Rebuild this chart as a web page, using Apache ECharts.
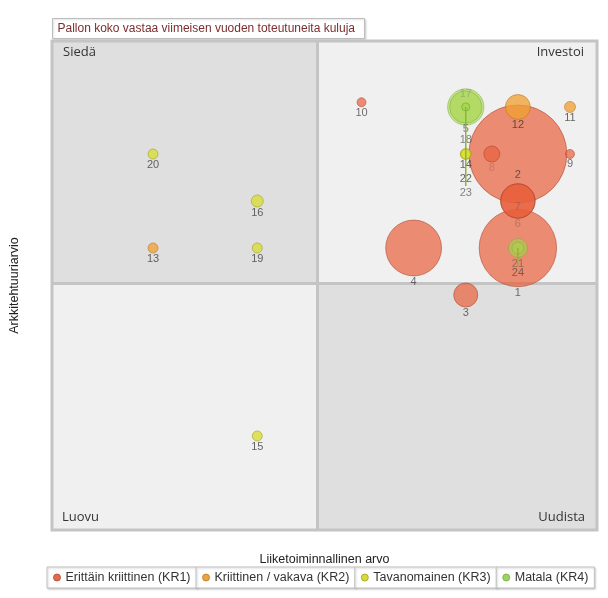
<!DOCTYPE html>
<html><head><meta charset="utf-8">
<script src="https://cdn.jsdelivr.net/npm/echarts@6/dist/echarts.min.js"></script>
<style>html,body{margin:0;padding:0;background:#fff}#c{width:608px;height:598px}</style>
</head><body><div id="c"></div>
<script>
// ---- data ----
const riskClasses = ['Erittäin kriittinen (KR1)', 'Kriittinen / vakava (KR2)', 'Tavanomainen (KR3)', 'Matala (KR4)'];
const pointIds = ['1','2','3','4','5','6','7','8','9','10','11','12','13','14','15','16','17','18','19','20','21','22','23','24'];
const businessValue = [4.5, 4.5, 4.0, 3.5, 4.0, 4.5, 4.5, 4.25, 5.0, 3.0, 5.0, 4.5, 1.0, 4.0, 2.0, 2.0, 4.0, 4.0, 2.0, 1.0, 4.5, 4.0, 4.0, 4.5];
const architectureScore = [3.5, 4.5, 3.0, 3.5, 5.0, 4.0, 4.0, 4.5, 4.5, 5.05, 5.0, 5.0, 3.5, 4.5, 1.5, 4.0, 5.0, 5.0, 3.5, 4.5, 3.5, 4.5, 5.0, 3.5];
const annualCost = [1500, 2400, 145, 780, 260, 290, 300, 64, 20, 20, 30, 155, 25, 30, 25, 36, 330, 16, 25, 25, 90, 25, 16, 36];
const riskClassIndex = [0, 0, 0, 0, 3, 0, 0, 0, 0, 0, 1, 1, 1, 2, 2, 2, 3, 3, 2, 2, 3, 2, 3, 3];
const quadrantNames = ['Siedä', 'Investoi', 'Luovu', 'Uudista'];

// ---- styling ----
const riskColors = ['#e8603c', '#f0a030', '#d8dc2c', '#a6d64a'];
const legendColors = ['#e46a4e', '#eba442', '#d6da3a', '#9cd462'];
const riskOpacity = [0.7, 0.75, 0.75, 0.6];
const riskBorders = ['rgba(170,70,45,0.8)', 'rgba(190,120,30,0.8)', 'rgba(160,160,30,0.8)', 'rgba(120,170,60,0.8)'];
const labelShift = {'2': -34, '7': -17, '17': -37, '18': 23, '22': 14, '23': 76, '24': 13};
const connectorIds = ['23', '24'];
const fadedLabels = {'6': '#a86a58', '7': '#a05848', '8': '#c07060', '17': '#8a9a70', '21': '#6a5040'};
const X_MIN = 0.031, X_MAX = 5.259, Y_MIN = 0.5, Y_MAX = 5.702;
const X_MID = 2.585, Y_MID = 3.117;
const FONT = 'Liberation Sans, Arial, sans-serif';
const QFONT = 'Open Sans, Noto Sans, sans-serif';
const LEGEND_FONT_SIZE = 12.5;

const sizeOf = cost => 2 * Math.sqrt(cost);

function buildItems(k) {
  const items = [];
  pointIds.forEach((id, i) => {
    if (riskClassIndex[i] !== k) return;
    const it = {name: id, value: [businessValue[i], architectureScore[i], annualCost[i]]};
    const lab = {};
    if (labelShift[id] !== undefined) lab.offset = [0, labelShift[id]];
    if (fadedLabels[id]) lab.color = fadedLabels[id];
    it.label = lab;
    items.push(it);
  });
  items.sort((a, b) => b.value[2] - a.value[2]);
  return items;
}

const series = riskClasses.map((name, k) => ({
  type: 'scatter', name: name, z: 3 + k,
  data: buildItems(k),
  symbolSize: v => sizeOf(v[2]),
  itemStyle: {color: riskColors[k], opacity: riskOpacity[k], borderColor: riskBorders[k], borderWidth: 1},
  label: {show: true, position: 'bottom', distance: 0, formatter: '{b}', color: '#333', fontSize: 11, fontFamily: FONT},
  emphasis: {disabled: true},
  animation: false
}));

const qLabel = (pos, off) => ({show: true, position: pos, distance: 5, offset: off, color: '#333', fontSize: 13, fontFamily: QFONT});
series.unshift({
  type: 'scatter', name: 'quadrants', data: [], silent: true, z: 1,
  markArea: {
    silent: true,
    data: [
      [{xAxis: X_MIN, yAxis: Y_MID, itemStyle: {color: '#dfdfdf'}, label: qLabel('insideTopLeft', [6, 0]), name: quadrantNames[0]}, {xAxis: X_MID, yAxis: Y_MAX}],
      [{xAxis: X_MID, yAxis: Y_MID, itemStyle: {color: '#f0f0f0'}, label: qLabel('insideTopRight', [-8, 0]), name: quadrantNames[1]}, {xAxis: X_MAX, yAxis: Y_MAX}],
      [{xAxis: X_MIN, yAxis: Y_MIN, itemStyle: {color: '#f0f0f0'}, label: qLabel('insideBottomLeft', [5, -1]), name: quadrantNames[2]}, {xAxis: X_MID, yAxis: Y_MID}],
      [{xAxis: X_MID, yAxis: Y_MIN, itemStyle: {color: '#dfdfdf'}, label: qLabel('insideBottomRight', [-7, -1]), name: quadrantNames[3]}, {xAxis: X_MAX, yAxis: Y_MID}]
    ]
  },
  markLine: {
    silent: true, symbol: 'none', z: 1,
    lineStyle: {color: '#c4c4c4', width: 3, type: 'solid'},
    label: {show: false},
    data: [{xAxis: X_MID}, {yAxis: Y_MID}]
  }
});

// legend boxes chained side by side, widths from measured text
const mctx = document.createElement('canvas').getContext('2d');
mctx.font = LEGEND_FONT_SIZE + 'px ' + FONT;
const legendLefts = [];
let lx = 47;
riskClasses.forEach(name => {
  legendLefts.push(lx);
  lx += 6 + 7 + 5 + mctx.measureText(name).width + 6;
});
const legends = riskClasses.map((name, k) => ({
  data: [{name: name, itemStyle: {color: legendColors[k], opacity: 1, borderColor: riskBorders[k], borderWidth: 1}}],
  left: legendLefts[k], top: 567,
  icon: 'circle', itemWidth: 7, itemHeight: 7, itemGap: 0,
  padding: [4, 6, 4, 6], borderColor: '#c2c2c2', borderWidth: 1, backgroundColor: '#fff',
  shadowColor: 'rgba(0,0,0,0.2)', shadowBlur: 2, shadowOffsetX: 1, shadowOffsetY: 1,
  textStyle: {fontSize: LEGEND_FONT_SIZE, color: '#333', fontFamily: FONT},
  selectedMode: false
}));

const titleGraphic = {
  type: 'group', id: 'titleBox', left: 52, top: 18,
  children: [
    {type: 'rect', shape: {x: 0, y: 0, width: 312, height: 20},
     style: {fill: '#fff', stroke: '#bdbdbd', lineWidth: 1, shadowColor: 'rgba(0,0,0,0.15)', shadowBlur: 2, shadowOffsetX: 1, shadowOffsetY: 1}},
    {type: 'text', x: 5, y: 10,
     style: {text: 'Pallon koko vastaa viimeisen vuoden toteutuneita kuluja', fill: '#7b2e2e', font: '12px ' + FONT, verticalAlign: 'middle'}}
  ]
};

const chart = echarts.init(document.getElementById('c'), null, {renderer: 'canvas'});
chart.setOption({
  animation: false,
  backgroundColor: '#fff',
  grid: {left: 52, right: 11, top: 41, bottom: 68, show: true, borderColor: '#c4c4c4', borderWidth: 3, z: 10,
         backgroundColor: 'transparent', containLabel: false, outerBoundsMode: 'none'},
  xAxis: {
    type: 'value', min: X_MIN, max: X_MAX,
    name: 'Liiketoiminnallinen arvo', nameLocation: 'middle', nameGap: 23,
    nameTextStyle: {fontSize: 12.5, color: '#222', fontFamily: FONT},
    axisLine: {show: false}, axisTick: {show: false}, axisLabel: {show: false}, splitLine: {show: false}
  },
  yAxis: {
    type: 'value', min: Y_MIN, max: Y_MAX,
    name: 'Arkkitehtuuriarvio', nameLocation: 'middle', nameGap: 31, nameRotate: 90,
    nameTextStyle: {fontSize: 12.5, color: '#222', fontFamily: FONT},
    axisLine: {show: false}, axisTick: {show: false}, axisLabel: {show: false}, splitLine: {show: false}
  },
  legend: legends,
  graphic: [titleGraphic],
  series: series
});

// connector lines from a bubble to its displaced label (positions through the chart's scales)
const connectors = connectorIds.map(id => {
  const i = pointIds.indexOf(id);
  const p = chart.convertToPixel({xAxisIndex: 0, yAxisIndex: 0}, [businessValue[i], architectureScore[i]]);
  const r = sizeOf(annualCost[i]) / 2;
  return {type: 'line', id: 'conn' + id, z: 100, silent: true,
    shape: {x1: p[0], y1: p[1], x2: p[0], y2: p[1] + r + labelShift[id] - 1},
    style: {stroke: '#8cb43c', lineWidth: 1.5}};
});
chart.setOption({graphic: [titleGraphic].concat(connectors)});
</script>
</body></html>
